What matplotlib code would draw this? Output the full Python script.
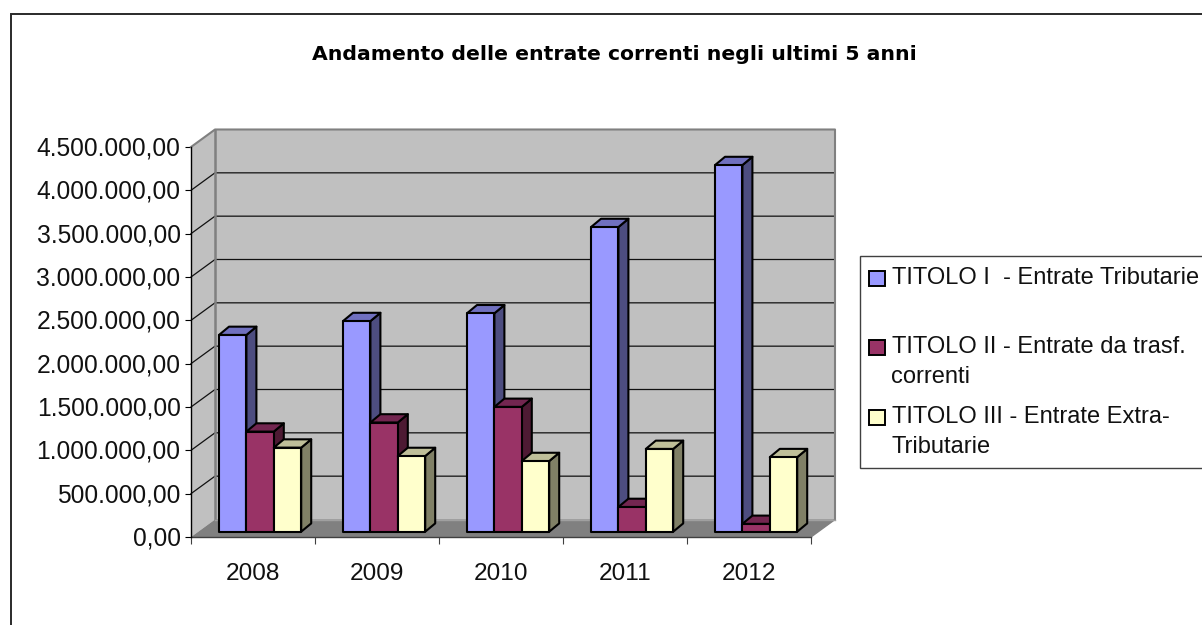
import matplotlib
matplotlib.use("Agg")
import matplotlib.pyplot as plt
from matplotlib.patches import Polygon, Rectangle
from matplotlib.lines import Line2D
from matplotlib.ticker import FuncFormatter
from matplotlib.transforms import ScaledTranslation

plt.rcParams['font.family'] = ['Liberation Sans', 'DejaVu Sans']

years = ['2008', '2009', '2010', '2011', '2012']
titolo_1 = [2270000, 2430000, 2520000, 3515000, 4230000]
titolo_2 = [1155000, 1260000, 1440000, 285000, 90000]
titolo_3 = [970000, 873000, 815000, 955000, 860000]

y_ticks = [0, 500000, 1000000, 1500000, 2000000, 2500000, 3000000, 3500000, 4000000, 4500000]

series = [
    (titolo_1, '#9999FF', '#4D4D80', '#7070BF'),
    (titolo_2, '#993366', '#4D1A33', '#732650'),
    (titolo_3, '#FFFFCC', '#808066', '#BFBF99'),
]

W, H = 1202, 625
fig = plt.figure(figsize=(W / 100, H / 100), dpi=100, facecolor='white')

# Front plane of the box: the axes span the category and value scales.
L, R, T, B = 191, 811, 147, 537
ax = fig.add_axes([L / W, 1 - B / H, (R - L) / W, (B - T) / H])
ax.set_xlim(0, 5)
ax.set_ylim(0, 4500000)
ax.patch.set_visible(False)
for s in ax.spines.values():
    s.set_visible(False)

px_x = 5 / (R - L)
px_y = 4500000 / (B - T)
ymax = 4500000

# Box depth and bar depth in axis units
dx, dy = 24 * px_x, 17.5 * px_y
bdx, bdy = 10 * px_x, 8.3 * px_y
base_x, base_y = 28 * px_x, 5.3 * px_y
bar_w = 27.4 * px_x


def poly(points, fc, ec='none', lw=0, z=1, join='miter'):
    ax.add_patch(Polygon(points, closed=True, facecolor=fc, edgecolor=ec, linewidth=lw,
                         zorder=z, clip_on=False, joinstyle=join))


# Walls and floor
poly([(dx, dy), (5 + dx, dy), (5 + dx, ymax + dy), (dx, ymax + dy)], '#C0C0C0', z=1)
poly([(0, 0), (dx, dy), (dx, ymax + dy), (0, ymax)], '#C0C0C0', z=1)
poly([(0, 0), (5, 0), (5 + dx, dy), (dx, dy)], '#808080', z=1)

# Gridlines across side wall and back wall
for v in y_ticks[1:-1]:
    ax.plot([0, dx, 5 + dx], [v, v + dy, v + dy], color='#111111', lw=0.9, zorder=2,
            clip_on=False, solid_joinstyle='miter')

# Grey outline of the box
grey = '#808080'
ax.plot([0, dx, 5 + dx, 5 + dx], [ymax, ymax + dy, ymax + dy, dy], color=grey, lw=1.5, zorder=2, clip_on=False)
ax.plot([dx, dx], [dy, ymax + dy], color=grey, lw=1.8, zorder=2, clip_on=False)
ax.plot([5, 5 + dx], [0, dy], color=grey, lw=1.0, zorder=2, clip_on=False)
ax.plot([dx, 5 + dx], [dy, dy], color='#A0A0A0', lw=1.0, zorder=2, clip_on=False)

# Bars: each one has a front, a top and a shaded side
z = 3
for i in range(len(years)):
    for j, (vals, front, side, top) in enumerate(series):
        x0 = i + base_x + j * bar_w
        x1 = x0 + bar_w
        y0 = base_y
        y1 = vals[i] + base_y
        kw = dict(ec='black', lw=1.5, z=z, join='round')
        poly([(x1, y0), (x1 + bdx, y0 + bdy), (x1 + bdx, y1 + bdy), (x1, y1)], side, **kw)
        poly([(x0, y1), (x1, y1), (x1 + bdx, y1 + bdy), (x0 + bdx, y1 + bdy)], top, **kw)
        poly([(x0, y0), (x1, y0), (x1, y1), (x0, y1)], front, **kw)
        z += 1

# Axis lines, ticks and labels
ax.spines['left'].set_visible(True)
ax.spines['left'].set_linewidth(1.0)
ax.spines['bottom'].set_visible(True)
ax.spines['bottom'].set_color('#404040')
ax.spines['bottom'].set_linewidth(1.0)
ax.spines['left'].set_zorder(50)
ax.spines['bottom'].set_zorder(2.5)

ax.set_yticks(y_ticks)
ax.yaxis.set_major_formatter(FuncFormatter(lambda v, _: f"{v:,.2f}".replace(',', 'X').replace('.', ',').replace('X', '.')))
ax.tick_params(axis='y', length=4.5, width=0.8, pad=3, labelsize=17.7, labelcolor='#111111')
ax.set_xticks(range(6))
ax.set_xticklabels([])
ax.tick_params(axis='x', which='major', length=5, width=0.8, color='#404040')
ax.set_xticks([i + 0.5 for i in range(5)], labels=years, minor=True)
ax.tick_params(axis='x', which='minor', length=0, pad=19, labelsize=17.6, labelcolor='#111111')

# Nudge value labels up by one pixel
nudge = ScaledTranslation(0, 1 / 100, fig.dpi_scale_trans)
for label in ax.get_yticklabels():
    label.set_transform(label.get_transform() + nudge)

# Outer chart frame, cut by the right and bottom image edges
fig.add_artist(Line2D([11 / W, 11 / W, 1], [0, 1 - 14.3 / H, 1 - 14.3 / H], color='#2A2A2A', lw=1.4,
                      solid_joinstyle='miter'))

# Title
fig.text(614 / W, 1 - 55 / H, 'Andamento delle entrate correnti negli ultimi 5 anni',
         ha='center', va='center', fontsize=14.7, fontweight='bold', color='black', family='DejaVu Sans')

# Legend box drawn in figure pixels
fig.add_artist(Rectangle((859.5 / W, 1 - 467.5 / H), (W + 20 - 859.5) / W, (467.5 - 256) / H,
                         transform=fig.transFigure, facecolor='white', edgecolor='#404040', lw=1.0))
legend_rows = [
    (series[0][1], 278, [(892, 'TITOLO I  - Entrate Tributarie', 284)]),
    (series[1][1], 347.5, [(892, 'TITOLO II - Entrate da trasf.', 353), (891, 'correnti', 383)]),
    (series[2][1], 417, [(892, 'TITOLO III - Entrate Extra-', 423), (892, 'Tributarie', 453)]),
]
for colour, yc, lines in legend_rows:
    fig.add_artist(Rectangle((869 / W, 1 - (yc + 7.5) / H), 16 / W, 15 / H, transform=fig.transFigure,
                             facecolor=colour, edgecolor='black', lw=1.4))
    for x, text, base in lines:
        fig.text(x / W, 1 - base / H, text, ha='left', va='baseline', fontsize=17.0, color='#111111')

fig.savefig('out.png', dpi=100, facecolor='white')
